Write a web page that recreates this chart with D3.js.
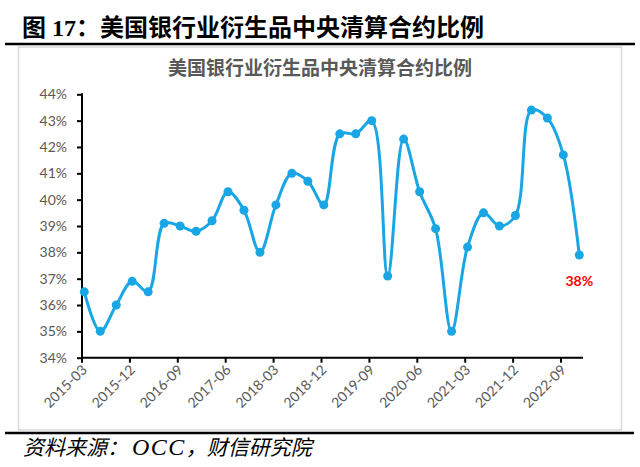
<!DOCTYPE html>
<html>
<head>
<meta charset="utf-8">
<script src="https://cdn.jsdelivr.net/npm/d3@7/dist/d3.min.js"></script>
<style>
  html, body { margin: 0; padding: 0; background: #fff; }
  svg { display: block; }
</style>
</head>
<body>
<svg id="chart" width="640" height="467"></svg>
<script>
// ---------- data ----------
const figureTitle = "图 17：美国银行业衍生品中央清算合约比例";
const chartTitle = "美国银行业衍生品中央清算合约比例";
const sourceParts = ["资料来源：", "OCC", "，财信研究院"];

const quarters = [
  "2015-03","2015-06","2015-09","2015-12",
  "2016-03","2016-06","2016-09","2016-12",
  "2017-03","2017-06","2017-09","2017-12",
  "2018-03","2018-06","2018-09","2018-12",
  "2019-03","2019-06","2019-09","2019-12",
  "2020-03","2020-06","2020-09","2020-12",
  "2021-03","2021-06","2021-09","2021-12",
  "2022-03","2022-06","2022-09","2022-12"
];
const ratio = [
  36.5, 35.0, 36.0, 36.9,
  36.5, 39.1, 39.0, 38.8,
  39.2, 40.3, 39.6, 38.0,
  39.8, 41.0, 40.7, 39.8,
  42.5, 42.5, 43.0, 37.1,
  42.3, 40.3, 38.9, 35.0,
  38.2, 39.5, 39.0, 39.4,
  43.4, 43.1, 41.7, 37.9
];
const yTicks = [34, 35, 36, 37, 38, 39, 40, 41, 42, 43, 44];
const xTickLabels = ["2015-03","2015-12","2016-09","2017-06","2018-03","2018-12",
                     "2019-09","2020-06","2021-03","2021-12","2022-09"];
const lastLabel = "38%";

// ---------- drawing ----------
const svg = d3.select("#chart");
const lineColor = "#18a6e4";
const axisText = "#595959";

// figure title
svg.append("text")
  .attr("x", 22).attr("y", 36)
  .attr("font-family", "'Liberation Serif','Noto Sans CJK SC',serif")
  .attr("font-weight", "bold")
  .attr("font-size", 24)
  .attr("fill", "#000")
  .text(figureTitle);

// top black rule
svg.append("line")
  .attr("x1", 5).attr("x2", 635).attr("y1", 44).attr("y2", 44)
  .attr("stroke", "#000").attr("stroke-width", 2.5);

// chart frame
svg.append("rect")
  .attr("x", 18.5).attr("y", 47).attr("width", 603).attr("height", 383)
  .attr("fill", "#fff").attr("stroke", "#d9d9d9").attr("stroke-width", 1.5);

// bottom black rule
svg.append("line")
  .attr("x1", 5).attr("x2", 634).attr("y1", 433).attr("y2", 433)
  .attr("stroke", "#000").attr("stroke-width", 2.5);

// source
const src = svg.append("text")
  .attr("x", 23).attr("y", 455)
  .attr("font-family", "'Liberation Serif','Noto Sans CJK SC',serif")
  .attr("font-style", "italic")
  .attr("font-size", 21)
  .attr("fill", "#000");
src.append("tspan").text(sourceParts[0]);
src.append("tspan").attr("font-size", 24).attr("letter-spacing", 1.5).attr("dx", 4).text(sourceParts[1]);
src.append("tspan").text(sourceParts[2]);

// chart title
svg.append("text")
  .attr("x", 320).attr("y", 75)
  .attr("text-anchor", "middle")
  .attr("font-family", "'Noto Sans CJK SC',sans-serif")
  .attr("font-weight", "bold")
  .attr("font-size", 19)
  .attr("fill", axisText)
  .text(chartTitle);

// scales
const x = d3.scaleLinear().domain([0, quarters.length - 1]).range([84.3, 579.3]);
const y = d3.scaleLinear().domain([34, 44]).range([357.7, 94.3]);
const axisX0 = 82, axisX1 = 583;
const tickShift = -2.3;

// y axis
const yAxis = d3.axisLeft(y)
  .tickValues(yTicks)
  .tickSize(5)
  .tickPadding(10)
  .tickFormat(d => d + "%");
const gy = svg.append("g").attr("transform", `translate(${axisX0},0)`).call(yAxis);
gy.select(".domain").remove();
gy.selectAll(".tick line").attr("stroke", "#000").attr("stroke-width", 2);
gy.selectAll(".tick text")
  .attr("font-family", "Lato, 'Open Sans', sans-serif")
  .attr("font-size", 14)
  .attr("fill", axisText);
gy.append("line")
  .attr("x1", 0).attr("x2", 0).attr("y1", y(44) - 1).attr("y2", y(34) + 1)
  .attr("stroke", "#000").attr("stroke-width", 2);

// x axis
const gx = svg.append("g");
gx.append("line")
  .attr("x1", axisX0 - 1).attr("x2", axisX1)
  .attr("y1", y(34)).attr("y2", y(34))
  .attr("stroke", "#000").attr("stroke-width", 2);
const xTicks = xTickLabels.map(lbl => ({ lbl, i: quarters.indexOf(lbl) }));
gx.selectAll("line.xt").data(xTicks).join("line")
  .attr("class", "xt")
  .attr("x1", d => x(d.i) + tickShift).attr("x2", d => x(d.i) + tickShift)
  .attr("y1", y(34)).attr("y2", y(34) + 5)
  .attr("stroke", "#000").attr("stroke-width", 2);
gx.selectAll("text.xl").data(xTicks).join("text")
  .attr("class", "xl")
  .attr("transform", d => `translate(${x(d.i) + tickShift + 6},${y(34) + 13}) rotate(-45)`)
  .attr("text-anchor", "end")
  .attr("font-family", "Lato, 'Open Sans', sans-serif")
  .attr("font-size", 14)
  .attr("fill", axisText)
  .text(d => d.lbl);

// line
const line = d3.line()
  .x((d, i) => x(i))
  .y(d => y(d))
  .curve(d3.curveCatmullRom.alpha(0.5));
svg.append("path")
  .datum(ratio)
  .attr("d", line)
  .attr("fill", "none")
  .attr("stroke", lineColor)
  .attr("stroke-width", 3)
  .attr("stroke-linejoin", "round");

// markers
svg.selectAll("circle.pt").data(ratio).join("circle")
  .attr("class", "pt")
  .attr("cx", (d, i) => x(i))
  .attr("cy", d => y(d))
  .attr("r", 4.5)
  .attr("fill", lineColor);

// last value label
const li = ratio.length - 1;
svg.append("text")
  .attr("x", x(li)).attr("y", y(ratio[li]) + 31)
  .attr("text-anchor", "middle")
  .attr("font-family", "Lato, 'Open Sans', sans-serif")
  .attr("font-weight", "bold")
  .attr("font-size", 14)
  .attr("fill", "#ff0000")
  .text(lastLabel);
</script>
</body>
</html>
